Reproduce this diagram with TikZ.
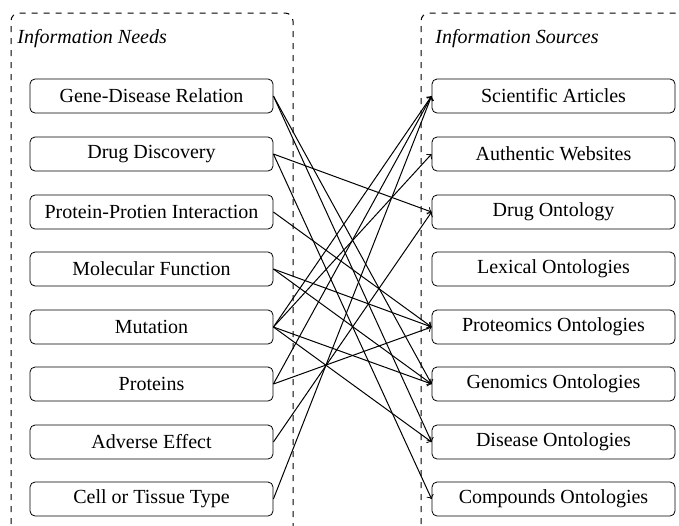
\documentclass[tikz,border=0pt]{standalone}
\usepackage{fontspec}
\setmainfont{Liberation Serif}
\begin{document}
\begin{tikzpicture}[x=0.5pt,y=-0.5pt,
  box/.style={draw, rounded corners=2.5pt, minimum width=121.5pt, minimum height=17pt, inner sep=0pt, font=\fontsize{10}{12}\selectfont},
  link/.style={->, semithick, line width=0.5pt},
  frame/.style={dashed, rounded corners=4pt, line width=0.5pt},
  title/.style={anchor=base west, inner sep=0pt, font=\fontsize{10}{12}\selectfont\itshape}]
\useasboundingbox (0,0) rectangle (679,525);
\begin{scope}
\clip (0,0) rectangle (679,525);
\draw[frame] (11,560) -- (11,13) -- (293,13) -- (293,560);
\draw[frame] (421,560) -- (421,13) -- (720,13) -- (720,560);
\end{scope}
\node[title] (tn) at (17,43) {Information Needs};
\node[title] (ts) at (435,43) {Information Sources};
% left boxes
\node[box] (gd) at (151.5,96) {Gene-Disease Relation};
\node[box] (dd) at (151.5,154) {Drug Discovery};
\node[box] (ppi) at (151.5,212) {Protein-Protien Interaction};
\node[box] (mf) at (151.5,269) {Molecular Function};
\node[box] (mu) at (151.5,327) {Mutation};
\node[box] (pr) at (151.5,384) {Proteins};
\node[box] (ae) at (151.5,442) {Adverse Effect};
\node[box] (ct) at (151.5,499) {Cell or Tissue Type};
% right boxes
\node[box] (sa) at (553.5,96) {Scientific Articles};
\node[box] (aw) at (553.5,154) {Authentic Websites};
\node[box] (do) at (553.5,212) {Drug Ontology};
\node[box] (lo) at (553.5,269) {Lexical Ontologies};
\node[box] (po) at (553.5,327) {Proteomics Ontologies};
\node[box] (go) at (553.5,384) {Genomics Ontologies};
\node[box] (dso) at (553.5,442) {Disease Ontologies};
\node[box] (co) at (553.5,499) {Compounds Ontologies};
% links
\draw[link] (gd.east) -- (go.west);
\draw[link] (gd.east) -- (dso.west);
\draw[link] (dd.east) -- (do.west);
\draw[link] (dd.east) -- (co.west);
\draw[link] (ppi.east) -- (po.west);
\draw[link] (mf.east) -- (po.west);
\draw[link] (mf.east) -- (go.west);
\draw[link] (mu.east) -- (sa.west);
\draw[link] (mu.east) -- (aw.west);
\draw[link] (mu.east) -- (go.west);
\draw[link] (mu.east) -- (dso.west);
\draw[link] (pr.east) -- (sa.west);
\draw[link] (pr.east) -- (po.west);
\draw[link] (ae.east) -- (do.west);
\draw[link] (ct.east) -- (sa.west);
\end{tikzpicture}
\end{document}
